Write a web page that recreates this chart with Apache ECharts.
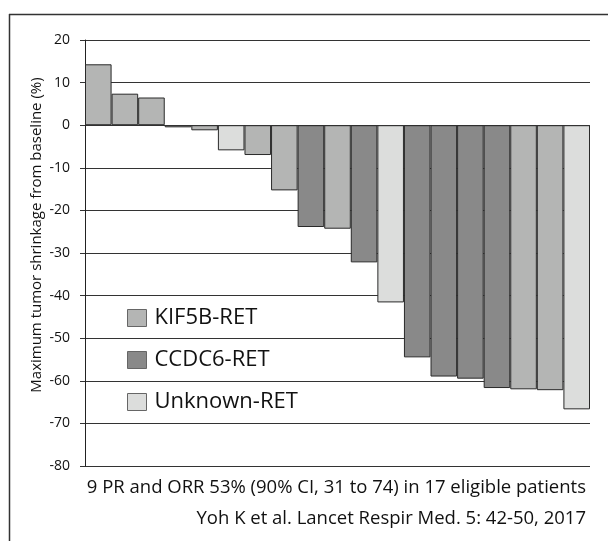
<!DOCTYPE html>
<html>
<head>
<meta charset="utf-8">
<script src="https://cdn.jsdelivr.net/npm/echarts@6/dist/echarts.min.js"></script>
<style>html,body{margin:0;padding:0;background:#fff;}#c{width:608px;height:541px;}</style>
</head>
<body>
<div id="c"></div>
<script>
var patients = ['P1','P2','P3','P4','P5','P6','P7','P8','P9','P10','P11','P12','P13','P14','P15','P16','P17','P18','P19'];
var shrinkage = [14.3, 7.4, 6.5, -0.5, -1.2, -5.9, -7.0, -15.3, -23.9, -24.3, -32.2, -41.6, -54.5, -59.0, -59.5, -61.7, -62.0, -62.2, -66.7];
var fusion = ['KIF5B-RET','KIF5B-RET','KIF5B-RET','KIF5B-RET','KIF5B-RET','Unknown-RET','KIF5B-RET','KIF5B-RET','CCDC6-RET','KIF5B-RET','CCDC6-RET','Unknown-RET','CCDC6-RET','CCDC6-RET','CCDC6-RET','CCDC6-RET','KIF5B-RET','KIF5B-RET','Unknown-RET'];
var fusionTypes = ['KIF5B-RET','CCDC6-RET','Unknown-RET'];
var yTicks = [20, 10, 0, -10, -20, -30, -40, -50, -60, -70, -80];
var yAxisTitle = 'Maximum tumor shrinkage from baseline (%)';
var noteLine1 = '9 PR and ORR 53% (90% CI, 31 to 74) in 17 eligible patients';
var noteLine2 = 'Yoh K et al. Lancet Respir Med. 5: 42-50, 2017';

var colors = {'KIF5B-RET':'#b4b5b4','CCDC6-RET':'#898989','Unknown-RET':'#dcdddc'};
var FONT = '"Open Sans", sans-serif';

var series = fusionTypes.map(function(t){
  return {
    name: t,
    type: 'bar',
    barGap: '-100%',
    barCategoryGap: '0%',
    data: shrinkage.map(function(v,i){ return fusion[i] === t ? v : null; }),
    itemStyle: { color: colors[t], borderColor: '#2a2a2a', borderWidth: 1 },
    emphasis: { disabled: true }
  };
});

var chart = echarts.init(document.getElementById('c'), null, {renderer:'canvas'});
chart.setOption({
  animation: false,
  backgroundColor: '#ffffff',
  grid: { left: 85, right: 18, top: 40, bottom: 75, containLabel: false },
  legend: {
    orient: 'vertical',
    left: 122, top: 302,
    icon: 'rect',
    itemWidth: 19, itemHeight: 17,
    itemGap: 20,
    data: fusionTypes,
    textStyle: { fontFamily: FONT, fontSize: 22, color: '#111', padding: [0,0,0,3] },
    itemStyle: { borderColor: '#666', borderWidth: 1 },
    selectedMode: false
  },
  xAxis: {
    type: 'category',
    data: patients,
    axisLine: { show: false },
    axisTick: { show: false },
    axisLabel: { show: false },
    splitLine: { show: false }
  },
  yAxis: {
    type: 'value',
    min: -80, max: 20, interval: 10,
    axisLine: { show: true, lineStyle: { color: '#222', width: 1 } },
    axisTick: { show: true, length: 5, lineStyle: { color: '#333' } },
    axisLabel: { margin: 15, fontFamily: FONT, fontSize: 14, color: '#111',
      formatter: function(v){ return yTicks.indexOf(v) >= 0 ? String(v) : ''; } },
    splitLine: { show: true, lineStyle: { color: '#333', width: 1 } }
  },
  series: series,
  graphic: [
    { type: 'line', shape: { x1: 9.5, y1: 14, x2: 9.5, y2: 541 }, style: { stroke: '#333', lineWidth: 1.5 } },
    { type: 'line', shape: { x1: 9, y1: 14.5, x2: 608, y2: 14.5 }, style: { stroke: '#333', lineWidth: 1.5 } },
    { type: 'text', x: 37, y: 235, rotation: Math.PI/2,
      style: { text: yAxisTitle, font: '15px ' + FONT, fill: '#111', textAlign: 'center', textVerticalAlign: 'middle' } },
    { type: 'text', x: 586, y: 488,
      style: { text: noteLine1, font: '18.5px ' + FONT, fill: '#111', textAlign: 'right', textVerticalAlign: 'middle' } },
    { type: 'text', x: 586, y: 519,
      style: { text: noteLine2, font: '18.5px ' + FONT, fill: '#111', textAlign: 'right', textVerticalAlign: 'middle' } }
  ]
});
</script>
</body>
</html>
